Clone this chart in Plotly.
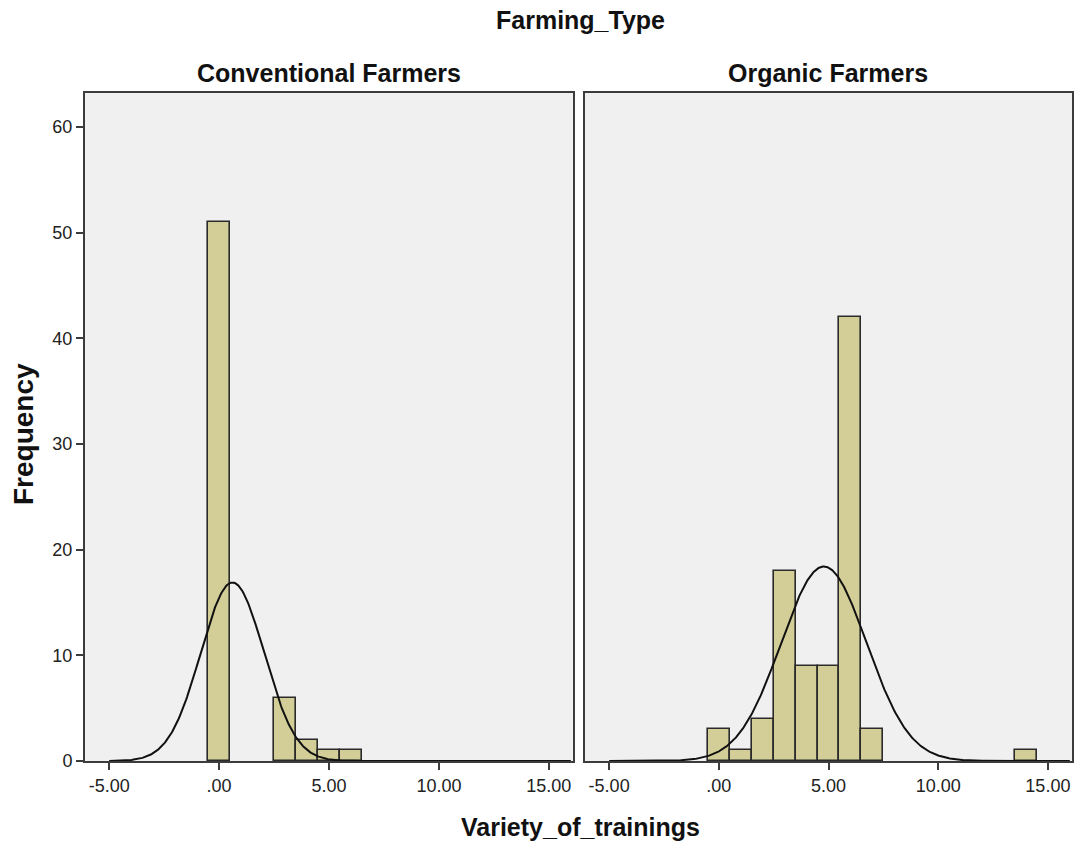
import numpy as np
import plotly.graph_objects as go

# Histogram counts per integer bin (bin width 1, centred on the value)
conv_values = [0, 3, 4, 5, 6]
conv_counts = [51, 6, 2, 1, 1]

org_values = [0, 1, 2, 3, 4, 5, 6, 7, 14]
org_counts = [3, 1, 4, 18, 9, 9, 42, 3, 1]

panel_titles = ["Conventional Farmers", "Organic Farmers"]
x_tick_vals = [-5, 0, 5, 10, 15]
x_tick_text = ["-5.00", ".00", "5.00", "10.00", "15.00"]
y_tick_vals = [0, 10, 20, 30, 40, 50, 60]

BAR_FILL = "#D3CE97"
BAR_EDGE = "#2a2a2a"
PLOT_BG = "#F0F0F0"
AXIS_COL = "#3c3c3c"
FONT = "Liberation Sans, Arial, sans-serif"


def normal_curve(values, counts, width=1.0):
    """Normal density scaled to counts, using the sample mean and sd."""
    v = np.repeat(np.array(values, float), counts)
    mu, sd = v.mean(), v.std(ddof=1)
    xs = np.linspace(-5, 16, 600)
    ys = len(v) * width / (sd * np.sqrt(2 * np.pi)) * np.exp(-0.5 * ((xs - mu) / sd) ** 2)
    return xs, ys


fig = go.Figure()

panels = [(conv_values, conv_counts, "x", "y"), (org_values, org_counts, "x2", "y2")]
for vals, cnts, xa, ya in panels:
    fig.add_trace(go.Bar(
        x=vals, y=cnts, width=1.0, xaxis=xa, yaxis=ya,
        marker=dict(color=BAR_FILL, line=dict(color=BAR_EDGE, width=1.6)),
        showlegend=False, hoverinfo="x+y",
    ))
    cx, cy = normal_curve(vals, cnts)
    fig.add_trace(go.Scatter(
        x=cx, y=cy, mode="lines", xaxis=xa, yaxis=ya,
        line=dict(color="#111111", width=2), showlegend=False, hoverinfo="skip",
    ))

W, H = 1076, 843
left_dom = [85 / W, 573 / W]
right_dom = [585 / W, 1072 / W]
y_dom = [1 - 761 / H, 1 - 93 / H]

tick_font = dict(family=FONT, size=18, color="#222")
xaxis_common = dict(
    range=[-6.1, 16.1], tickvals=x_tick_vals, ticktext=x_tick_text,
    ticks="outside", ticklen=7, tickwidth=1.5, tickcolor=AXIS_COL,
    showgrid=False, zeroline=False, automargin=False,
    showline=True, linecolor=AXIS_COL, linewidth=2, mirror=True,
    tickfont=tick_font,
)
yaxis_common = dict(
    range=[0, 63.2], tickvals=y_tick_vals, showgrid=False, zeroline=False,
    showline=True, linecolor=AXIS_COL, linewidth=2, mirror=True, automargin=False,
    tickfont=tick_font,
)

title_font = dict(family=FONT, size=25, color="#111")


def label(text, x, y, **kw):
    return dict(text=f"<b>{text}</b>", x=x, y=1 - y / H, xref="paper", yref="paper",
                xanchor="center", yanchor="middle", showarrow=False, **kw)


fig.update_layout(
    template="none",
    width=W, height=H,
    margin=dict(l=0, r=0, t=0, b=0, pad=0),
    paper_bgcolor="white", plot_bgcolor=PLOT_BG,
    bargap=0,
    xaxis=dict(domain=left_dom, anchor="y", **xaxis_common),
    xaxis2=dict(domain=right_dom, anchor="y2", **xaxis_common),
    yaxis=dict(domain=y_dom, anchor="x", ticks="outside", ticklen=7, tickwidth=1.5,
               tickcolor=AXIS_COL, **yaxis_common),
    yaxis2=dict(domain=y_dom, anchor="x2", ticks="", showticklabels=False,
                **yaxis_common),
    annotations=[
        label("Farming_Type", 580 / W, 20, font=title_font),
        label(panel_titles[0], sum(left_dom) / 2, 73, font=title_font),
        label(panel_titles[1], sum(right_dom) / 2, 73, font=title_font),
        label("Frequency", 23 / W, 434, textangle=-90,
              font=dict(family=FONT, size=28, color="#111")),
        label("Variety_of_trainings", 580 / W, 827, font=title_font),
    ],
)

fig.write_html("out.html")
